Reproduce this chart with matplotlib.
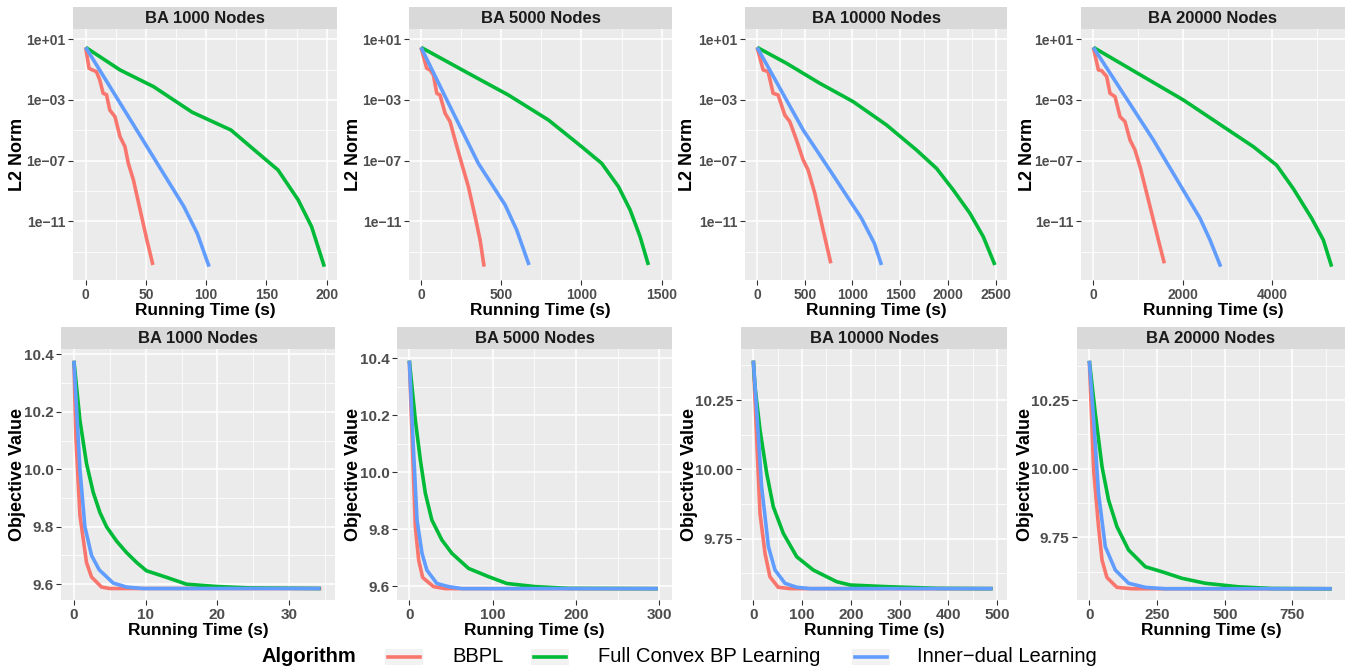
import numpy as np
import matplotlib
matplotlib.use("Agg")
import matplotlib.pyplot as plt
from matplotlib.lines import Line2D
from matplotlib.patches import Rectangle
from matplotlib.ticker import FixedLocator, NullFormatter

plt.rcParams['font.family'] = ['Liberation Sans', 'DejaVu Sans']

W, H = 1359, 669
RED, GREEN, BLUE = '#F8766D', '#00BA38', '#619CFF'
algorithms = ['BBPL', 'Full Convex BP Learning', 'Inner\u2212dual Learning']
colors = [RED, GREEN, BLUE]
sizes = ['1000', '5000', '10000', '20000']

# ---- L2 norm (log10 values) vs running time ----
l2_1000_bbpl_t = [0, 2.8, 5.6, 8.9, 11.7, 14.5, 17.3, 20, 24.3, 28.5, 32.6, 35.4, 39.6, 45.2, 50.8, 55.8]
l2_1000_bbpl_v = [0.47, -0.91, -1.02, -1.13, -1.68, -2.56, -2.65, -3.66, -4.10, -5.42, -6.08, -7.18, -8.27, -10.25, -12.23, -13.88]
l2_1000_full_t = [0, 28.5, 56.3, 88.4, 120.5, 140, 159.6, 176.3, 187.4, 198]
l2_1000_full_v = [0.47, -1.02, -2.12, -3.81, -4.98, -6.3, -7.62, -9.59, -11.35, -13.99]
l2_1000_inner_t = [0, 40, 81.5, 92.6, 102.4]
l2_1000_inner_v = [0.47, -4.68, -10.03, -11.8, -13.99]

l2_5000_bbpl_t = [0, 35, 56, 77, 98, 118, 150, 181, 212, 253, 295, 337, 368, 393]
l2_5000_bbpl_v = [0.47, -0.91, -1.02, -1.35, -2.56, -2.67, -3.88, -4.43, -5.64, -7.18, -8.71, -10.69, -12.23, -13.99]
l2_5000_full_t = [0, 295, 544, 794, 1001, 1126, 1230, 1303, 1365, 1417]
l2_5000_full_v = [0.47, -1.24, -2.67, -4.32, -6.08, -7.18, -8.71, -10.25, -12.01, -13.88]
l2_5000_inner_t = [0, 170, 357, 524, 596, 673]
l2_5000_inner_v = [0.47, -3.2, -7.18, -9.92, -11.57, -13.88]

l2_10000_bbpl_t = [0, 63, 115, 168, 220, 290, 343, 413, 483, 535, 605, 692, 773]
l2_10000_bbpl_v = [0.47, -1.02, -1.13, -2.56, -2.67, -3.99, -4.43, -5.64, -6.96, -7.62, -9.15, -11.57, -13.77]
l2_10000_full_t = [0, 308, 657, 1007, 1357, 1671, 1881, 2056, 2231, 2371, 2493]
l2_10000_full_v = [0.47, -0.58, -1.90, -3.11, -4.65, -6.30, -7.51, -8.93, -10.47, -12.01, -13.88]
l2_10000_inner_t = [0, 483, 762, 1094, 1229, 1304]
l2_10000_inner_v = [0.47, -4.98, -7.62, -10.80, -12.45, -13.88]

l2_20000_bbpl_t = [0, 112, 186, 298, 372, 484, 596, 707, 819, 931, 1043, 1192, 1341, 1490, 1586]
l2_20000_bbpl_v = [0.47, -1.02, -1.07, -1.46, -2.56, -2.78, -4.10, -4.43, -5.64, -6.30, -7.40, -9.15, -10.91, -12.67, -13.77]
l2_20000_full_t = [0, 1117, 2011, 2904, 3575, 4095, 4468, 4877, 5138, 5324]
l2_20000_full_v = [0.47, -1.46, -3.00, -4.76, -6.08, -7.30, -8.85, -10.80, -12.23, -13.99]
l2_20000_inner_t = [0, 1341, 2383, 2606, 2845]
l2_20000_inner_v = [0.47, -5.64, -10.80, -12.23, -13.99]

# ---- objective value vs running time ----
obj_1000_bbpl_t = [0, 0.28, 0.84, 1.76, 2.46, 3.85, 5.0, 34.5]
obj_1000_bbpl_v = [10.378, 10.11, 9.84, 9.675, 9.625, 9.59, 9.585, 9.585]
obj_1000_full_t = [0, 0.84, 1.76, 2.69, 3.62, 4.55, 5.95, 7.34, 8.73, 10.1, 12.9, 15.7, 19.9, 24.5, 34.4]
obj_1000_full_v = [10.378, 10.17, 10.02, 9.92, 9.85, 9.80, 9.75, 9.71, 9.676, 9.647, 9.624, 9.60, 9.592, 9.587, 9.585]
obj_1000_inner_t = [0, 0.84, 1.53, 2.46, 3.53, 5.48, 7.34, 9.66, 34.4]
obj_1000_inner_v = [10.378, 10.0, 9.80, 9.70, 9.65, 9.604, 9.59, 9.585, 9.585]

obj_5000_bbpl_t = [0, 4, 7.2, 11.2, 16, 29, 43, 298]
obj_5000_bbpl_v = [10.392, 10.066, 9.808, 9.691, 9.630, 9.598, 9.591, 9.591]
obj_5000_full_t = [0, 7.2, 13.2, 19.2, 27, 39, 51, 71, 95, 117, 151, 191, 298]
obj_5000_full_v = [10.392, 10.183, 10.043, 9.926, 9.832, 9.762, 9.715, 9.662, 9.633, 9.609, 9.598, 9.592, 9.591]
obj_5000_inner_t = [0, 5.2, 9.2, 15.2, 21, 33, 47, 63, 298]
obj_5000_inner_v = [10.392, 10.066, 9.832, 9.715, 9.656, 9.609, 9.598, 9.591, 9.591]

obj_10000_bbpl_t = [0, 8.2, 13.7, 24, 34, 51, 75, 491]
obj_10000_bbpl_v = [10.392, 10.058, 9.841, 9.697, 9.613, 9.575, 9.570, 9.570]
obj_10000_full_t = [0, 3.4, 13.7, 27.4, 41, 61.6, 89, 123, 171, 199, 274, 377, 491]
obj_10000_full_v = [10.392, 10.298, 10.142, 9.986, 9.865, 9.769, 9.685, 9.637, 9.595, 9.583, 9.577, 9.571, 9.570]
obj_10000_inner_t = [0, 8.2, 17, 31, 44.5, 65, 89, 116, 491]
obj_10000_inner_v = [10.392, 10.178, 9.938, 9.721, 9.637, 9.589, 9.575, 9.570, 9.570]

obj_20000_bbpl_t = [0, 16, 34, 47, 65, 102, 157, 895]
obj_20000_bbpl_v = [10.393, 9.995, 9.789, 9.667, 9.604, 9.568, 9.563, 9.563]
obj_20000_full_t = [0, 22, 47, 71, 102, 145, 207, 268, 342, 428, 551, 674, 895]
obj_20000_full_v = [10.393, 10.201, 10.007, 9.886, 9.789, 9.704, 9.643, 9.625, 9.601, 9.583, 9.570, 9.564, 9.563]
obj_20000_inner_t = [0, 16, 34, 59, 96, 145, 207, 280, 895]
obj_20000_inner_v = [10.393, 10.177, 9.910, 9.716, 9.631, 9.583, 9.568, 9.563, 9.563]

l2_series = [
    [(l2_1000_bbpl_t, l2_1000_bbpl_v), (l2_1000_full_t, l2_1000_full_v), (l2_1000_inner_t, l2_1000_inner_v)],
    [(l2_5000_bbpl_t, l2_5000_bbpl_v), (l2_5000_full_t, l2_5000_full_v), (l2_5000_inner_t, l2_5000_inner_v)],
    [(l2_10000_bbpl_t, l2_10000_bbpl_v), (l2_10000_full_t, l2_10000_full_v), (l2_10000_inner_t, l2_10000_inner_v)],
    [(l2_20000_bbpl_t, l2_20000_bbpl_v), (l2_20000_full_t, l2_20000_full_v), (l2_20000_inner_t, l2_20000_inner_v)],
]
obj_series = [
    [(obj_1000_bbpl_t, obj_1000_bbpl_v), (obj_1000_full_t, obj_1000_full_v), (obj_1000_inner_t, obj_1000_inner_v)],
    [(obj_5000_bbpl_t, obj_5000_bbpl_v), (obj_5000_full_t, obj_5000_full_v), (obj_5000_inner_t, obj_5000_inner_v)],
    [(obj_10000_bbpl_t, obj_10000_bbpl_v), (obj_10000_full_t, obj_10000_full_v), (obj_10000_inner_t, obj_10000_inner_v)],
    [(obj_20000_bbpl_t, obj_20000_bbpl_v), (obj_20000_full_t, obj_20000_full_v), (obj_20000_inner_t, obj_20000_inner_v)],
]

l2_xticks = [[0, 50, 100, 150, 200], [0, 500, 1000, 1500],
             [0, 500, 1000, 1500, 2000, 2500], [0, 2000, 4000]]
l2_xlims = [(-10.5, 208.5), (-75, 1564), (-127, 2620), (-276, 5622)]
l2_yticks = [1e1, 1e-3, 1e-7, 1e-11]
l2_yticklabels = ['1e+01', '1e\u221203', '1e\u221207', '1e\u221211']
l2_yminor = [1e-1, 1e-5, 1e-9, 1e-13]

obj_xticks = [[0, 10, 20, 30], [0, 100, 200, 300],
              [0, 100, 200, 300, 400, 500], [0, 250, 500, 750]]
obj_xlims = [(-1.8, 36.4), (-14.8, 315), (-25.3, 520.5), (-45.5, 944)]
obj_ylims = [(9.545, 10.419), (9.551, 10.433), (9.529, 10.434), (9.522, 10.436)]
obj_yticks = [[9.6, 9.8, 10.0, 10.2, 10.4], [9.6, 9.8, 10.0, 10.2, 10.4],
              [9.75, 10.0, 10.25], [9.75, 10.0, 10.25]]
obj_yfmt = ['%.1f', '%.1f', '%.2f', '%.2f']

# panel boxes in pixels: (left, right), y-title centre
top_x = [(73, 337), (409, 672), (745, 1007), (1081, 1345)]
bot_x = [(61, 335), (397, 672), (741, 1007), (1077, 1345)]
top_ylab = [18, 353, 688, 1027]
bot_ylab = [18, 353, 689, 1025]
top_y = (7, 29, 280)     # strip top, panel top, panel bottom
bot_y = (327, 349, 600)

fig = plt.figure(figsize=(W / 100, H / 100), dpi=100)


def fx(px):
    return px / W


def fy(py):
    return 1 - py / H


def style(ax, xl, ticksize):
    ax.set_facecolor('#EBEBEB')
    for s in ax.spines.values():
        s.set_visible(False)
    ax.grid(which='major', color='white', linewidth=1.1)
    ax.grid(which='minor', color='white', linewidth=0.55)
    ax.set_axisbelow(True)
    ax.tick_params(which='major', length=3.5, width=0.8, color='#333333',
                   labelcolor='#4D4D4D', labelsize=ticksize, pad=2)
    ax.tick_params(which='minor', length=0)
    for lab in ax.get_xticklabels() + ax.get_yticklabels():
        lab.set_fontweight('bold')
    ax.set_xlabel(xl, fontsize=12.4, fontweight='bold', labelpad=1)


def strip(x0, x1, ytop, ybot, title):
    sa = fig.add_axes([fx(x0), fy(ybot), fx(x1 - x0), (ybot - ytop) / H])
    sa.set_facecolor('#D9D9D9')
    sa.set_xticks([])
    sa.set_yticks([])
    for s in sa.spines.values():
        s.set_visible(False)
    sa.text(0.5, 0.47, title, ha='center', va='center', fontsize=12,
            fontweight='bold', color='#1A1A1A', transform=sa.transAxes)


def ytitle(xpx, ytop, ybot, text):
    fig.text(fx(xpx), fy((ytop + ybot) / 2), text, rotation=90, ha='center',
             va='center', fontsize=13, fontweight='bold', color='black')


for i, size in enumerate(sizes):
    # top row: L2 norm
    x0, x1 = top_x[i]
    st, pt, pb = top_y
    ax = fig.add_axes([fx(x0), fy(pb), fx(x1 - x0), (pb - pt) / H])
    for (t, v), c in zip(l2_series[i], colors):
        ax.plot(t, 10 ** np.array(v), color=c, lw=2.6, solid_capstyle='butt')
    ax.set_yscale('log')
    ax.set_ylim(10 ** -14.87, 10 ** 1.68)
    ax.yaxis.set_major_locator(FixedLocator(l2_yticks))
    ax.set_yticklabels(l2_yticklabels)
    ax.yaxis.set_minor_locator(FixedLocator(l2_yminor))
    ax.yaxis.set_minor_formatter(NullFormatter())
    xt = l2_xticks[i]
    ax.set_xticks(xt)
    ax.set_xticks([a + (xt[1] - xt[0]) / 2 for a in xt], minor=True)
    ax.set_xticklabels([str(a) for a in xt])
    ax.set_xlim(*l2_xlims[i])
    style(ax, 'Running Time (s)', 10)
    strip(x0, x1, st, pt, 'BA %s Nodes' % size)
    ytitle(top_ylab[i], pt, pb, 'L2 Norm')

    # bottom row: objective value
    x0, x1 = bot_x[i]
    st, pt, pb = bot_y
    ax = fig.add_axes([fx(x0), fy(pb), fx(x1 - x0), (pb - pt) / H])
    for (t, v), c in zip(obj_series[i], colors):
        ax.plot(t, v, color=c, lw=2.6, solid_capstyle='butt')
    yt = obj_yticks[i]
    ax.set_yticks(yt)
    ax.set_yticklabels([obj_yfmt[i] % a for a in yt])
    dy = yt[1] - yt[0]
    ax.set_yticks([yt[0] - dy / 2] + [a + dy / 2 for a in yt], minor=True)
    xt = obj_xticks[i]
    ax.set_xticks(xt)
    ax.set_xticks([a + (xt[1] - xt[0]) / 2 for a in xt], minor=True)
    ax.set_xticklabels([str(a) for a in xt])
    ax.set_xlim(*obj_xlims[i])
    ax.set_ylim(*obj_ylims[i])
    style(ax, 'Running Time (s)', 11)
    strip(x0, x1, st, pt, 'BA %s Nodes' % size)
    ytitle(bot_ylab[i], pt, pb, 'Objective Value')

# legend along the bottom
ly = 657
fig.text(fx(262), fy(ly), 'Algorithm', fontsize=14.5, fontweight='bold',
         ha='left', va='center', color='black')
key_x = [385, 531, 852]
text_x = [452, 598, 917]
for kx, tx, c, name in zip(key_x, text_x, colors, algorithms):
    fig.add_artist(Rectangle((fx(kx), fy(ly + 8)), fx(38), 16 / H,
                             facecolor='#F2F2F2', edgecolor='none'))
    fig.add_artist(Line2D([fx(kx + 3), fx(kx + 35)], [fy(ly), fy(ly)],
                          color=c, lw=2.6))
    fig.text(fx(tx), fy(ly), name, fontsize=14.5, ha='left', va='center',
             color='black')

fig.savefig('out.png', dpi=100)
